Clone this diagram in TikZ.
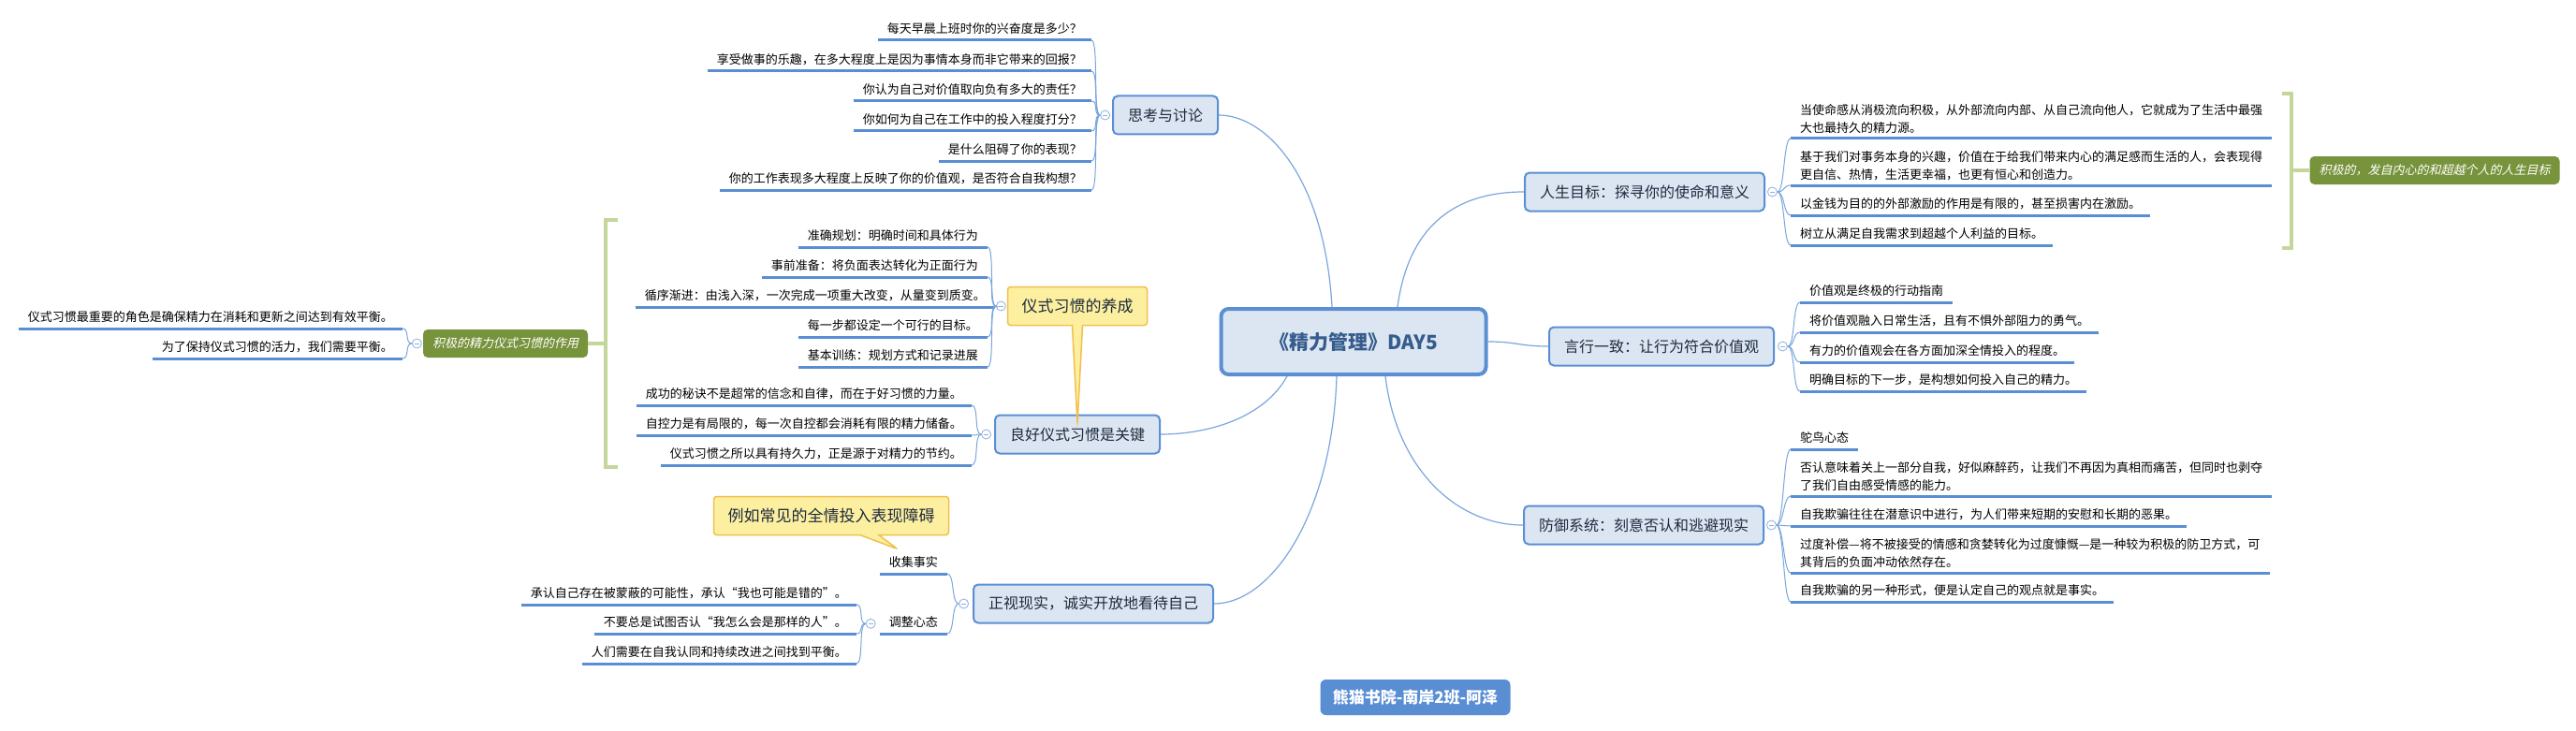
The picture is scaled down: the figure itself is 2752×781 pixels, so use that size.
\documentclass[tikz,border=0pt]{standalone}
\usepackage{fontspec}
\setmainfont{Noto Sans CJK SC}
\newfontfamily\slantcjk{Noto Sans CJK SC}[FakeSlant=0.22]
\usetikzlibrary{positioning,shapes.callouts}

\definecolor{topicfill}{HTML}{DCE6F2}
\definecolor{topicline}{HTML}{5B8FD4}
\definecolor{topictext}{HTML}{1E2A3E}
\definecolor{centertext}{HTML}{355C8C}
\definecolor{linkcol}{HTML}{7AA6DD}
\definecolor{ulcol}{HTML}{5A8ED3}
\definecolor{foldcol}{HTML}{8DB0DE}
\definecolor{sumcol}{HTML}{C4D79B}
\definecolor{sumfill}{HTML}{77933C}
\definecolor{notefill}{HTML}{FCF0A0}
\definecolor{notedraw}{HTML}{F2BF4E}

\begin{document}
\begin{tikzpicture}[x=1pt,y=-1pt,
    topic/.style={rectangle,rounded corners=5pt,draw=topicline,line width=2pt,fill=topicfill,
                  text=topictext,font=\fontsize{16}{19}\selectfont,minimum height=41pt,inner xsep=16pt},
    central/.style={topic,line width=4pt,rounded corners=8pt,text=centertext,
                    font=\bfseries\fontsize{21}{25}\selectfont,minimum height=70pt,minimum width=283pt},
    leafl/.style={anchor=south east,inner xsep=10pt,inner ysep=4pt,text height=10pt,text depth=3pt,
                  font=\fontsize{13}{19}\selectfont},
    leafr/.style={leafl,anchor=south west},
    leafm/.style={anchor=south west,align=left,inner xsep=10pt,inner ysep=5pt,font=\fontsize{13}{19}\selectfont},
    uline/.style={draw=ulcol,line width=3pt},
    link/.style={draw=linkcol,line width=1.2pt},
    spinel/.style={draw=linkcol,line width=1pt,out=180,in=0,distance=8pt},
    spiner/.style={draw=linkcol,line width=1pt,out=0,in=180,distance=8pt},
    fold/.style={circle,draw=foldcol,fill=white,line width=0.8pt,minimum size=10pt,inner sep=0pt,
                 path picture={\draw[foldcol,line width=0.8pt] ([xshift=2.5pt]path picture bounding box.west)
                               -- ([xshift=-2.5pt]path picture bounding box.east);}},
    note/.style={rectangle callout,rounded corners=3pt,draw=notedraw,line width=1.5pt,fill=notefill,
                 text=topictext,font=\fontsize{17}{20}\selectfont,minimum height=41pt,inner xsep=15pt},
    sumnode/.style={rectangle,rounded corners=5pt,fill=sumfill,text=white,
                    font=\slantcjk\fontsize{13}{16}\selectfont,minimum height=30pt,inner xsep=10pt},
    bracket/.style={draw=sumcol,line width=4pt},
    credit/.style={rectangle,rounded corners=6pt,fill=ulcol,text=white,
                   font=\bfseries\fontsize{17}{20}\selectfont,minimum width=203pt,minimum height=38pt}]

  \path[fill=white] (0,0) rectangle (2752,781);
  \useasboundingbox (0,0) rectangle (2752,781);

  % centre and main topics
  \node[central] (C) at (1446,365) {《精力管理》DAY5};
  \node[topic]   (A) at (1245,123) {思考与讨论};
  \node[topic]   (B) at (1757,205) {人生目标：探寻你的使命和意义};
  \node[topic]   (D) at (1775,370) {言行一致：让行为符合价值观};
  \node[topic]   (E) at (1756,561) {防御系统：刻意否认和逃避现实};
  \node[topic]   (L) at (1151,464) {良好仪式习惯是关键};
  \node[topic]   (F) at (1168,645) {正视现实，诚实开放地看待自己};

  \draw[link] ([xshift=-23pt]C.north) .. controls +(-8,-140) and +(50,0) .. (A.east);
  \draw[link] ([xshift=47pt]C.north) .. controls +(12,-90) and +(-70,0) .. (B.west);
  \draw[link] (C.east) .. controls +(30,0) and +(-30,0) .. (D.west);
  \draw[link] ([xshift=34pt]C.south) .. controls +(12,100) and +(-70,0) .. (E.west);
  \draw[link] ([xshift=-18pt]C.south) .. controls +(-5,150) and +(60,0) .. (F.east);
  \draw[link] ([xshift=-71pt]C.south) .. controls +(-25,45) and +(50,0) .. (L.east);

  % 思考与讨论
  \node[leafl] (A1) at (1166,43)  {每天早晨上班时你的兴奋度是多少？};
  \node[leafl] (A2) at (1166,76)  {享受做事的乐趣，在多大程度上是因为事情本身而非它带来的回报？};
  \node[leafl] (A3) at (1166,108) {你认为自己对价值取向负有多大的责任？};
  \node[leafl] (A4) at (1166,140) {你如何为自己在工作中的投入程度打分？};
  \node[leafl] (A5) at (1166,172) {是什么阻碍了你的表现？};
  \node[leafl] (A6) at (1166,203) {你的工作表现多大程度上反映了你的价值观，是否符合自我构想？};
  \node[fold]  (fA) [left=2pt of A] {};

  % 仪式习惯的养成
  \coordinate (tipR) at ([yshift=-10pt]L.north);
  \node[note,callout absolute pointer={(tipR)},callout pointer width=11pt] (R) at (1151,327) {仪式习惯的养成};
  \node[leafl] (R1) at (1055,264) {准确规划：明确时间和具体行为};
  \node[leafl] (R2) at (1055,296) {事前准备：将负面表达转化为正面行为};
  \node[leafl] (R3) at (1063,328) {循序渐进：由浅入深，一次完成一项重大改变，从量变到质变。};
  \node[leafl] (R4) at (1055,360) {每一步都设定一个可行的目标。};
  \node[leafl] (R5) at (1055,392) {基本训练：规划方式和记录进展};
  \node[fold]  (fR) [left=1pt of R] {};

  % 良好仪式习惯是关键
  \node[leafl] (L1) at (1038,433) {成功的秘诀不是超常的信念和自律，而在于好习惯的力量。};
  \node[leafl] (L2) at (1038,465) {自控力是有局限的，每一次自控都会消耗有限的精力储备。};
  \node[leafl] (L3) at (1038,497) {仪式习惯之所以具有持久力，正是源于对精力的节约。};
  \node[fold]  (fL) [left=3pt of L] {};

  % 积极的精力仪式习惯的作用
  \node[sumnode] (G) at (540,367) {积极的精力仪式习惯的作用};
  \node[leafl] (G1) at (430,351) {仪式习惯最重要的角色是确保精力在消耗和更新之间达到有效平衡。};
  \node[leafl] (G2) at (430,383) {为了保持仪式习惯的活力，我们需要平衡。};
  \node[fold]  (fG) [left=1pt of G] {};
  \coordinate (bl1) at (660,235);
  \coordinate (bl2) at (647,235);
  \coordinate (bl3) at (647,499);
  \coordinate (bl4) at (660,499);
  \draw[bracket] (bl1) -- (bl2) -- (bl3) -- (bl4);
  \draw[bracket] (G.east -| bl2) -- (G.east);

  % 正视现实
  \node[leafl] (F1) at (1012,613) {收集事实};
  \node[leafl] (F2) at (1012,677) {调整心态};
  \node[fold]  (fF) [left=4pt of F] {};
  \node[leafl] (F21) at (915,646) {承认自己存在被蒙蔽的可能性，承认“我也可能是错的”。};
  \node[leafl] (F22) at (915,677) {不要总是试图否认“我怎么会是那样的人”。};
  \node[leafl] (F23) at (915,709) {人们需要在自我认同和持续改进之间找到平衡。};
  \node[fold]  (fF2) [left=4pt of F2] {};
  \coordinate (tipN) at ([xshift=-17pt,yshift=5pt]F1.north);
  \node[note,callout absolute pointer={(tipN)},callout pointer width=20pt] (N) at (888,551) {例如常见的全情投入表现障碍};

  % 人生目标
  \node[leafm] (B1) at (1913,148) {当使命感从消极流向积极，从外部流向内部、从自己流向他人，它就成为了生活中最强\\大也最持久的精力源。};
  \node[leafm] (B2) at (1913,198) {基于我们对事务本身的兴趣，价值在于给我们带来内心的满足感而生活的人，会表现得\\更自信、热情，生活更幸福，也更有恒心和创造力。};
  \node[leafr] (B3) at (1913,230) {以金钱为目的的外部激励的作用是有限的，甚至损害内在激励。};
  \node[leafr] (B4) at (1913,262) {树立从满足自我需求到超越个人利益的目标。};
  \node[fold]  (fB) [right=2pt of B] {};
  \node[sumnode] (P) at (2601,182) {积极的，发自内心的和超越个人的人生目标};
  \coordinate (br1) at (2438,100);
  \coordinate (br2) at (2448,100);
  \coordinate (br3) at (2448,265);
  \coordinate (br4) at (2438,265);
  \draw[bracket] (br1) -- (br2) -- (br3) -- (br4);
  \draw[bracket] (P.west -| br2) -- (P.west);

  % 言行一致
  \node[leafr] (D1) at (1923,323) {价值观是终极的行动指南};
  \node[leafr] (D2) at (1923,355) {将价值观融入日常生活，且有不惧外部阻力的勇气。};
  \node[leafr] (D3) at (1923,387) {有力的价值观会在各方面加深全情投入的程度。};
  \node[leafr] (D4) at (1923,418) {明确目标的下一步，是构想如何投入自己的精力。};
  \node[fold]  (fD) [right=3pt of D] {};

  % 防御系统
  \node[leafr] (E1) at (1913,480) {鸵鸟心态};
  \node[leafm] (E2) at (1913,530) {否认意味着关上一部分自我，好似麻醉药，让我们不再因为真相而痛苦，但同时也剥夺\\了我们自由感受情感的能力。};
  \node[leafr] (E3) at (1913,562) {自我欺骗往往在潜意识中进行，为人们带来短期的安慰和长期的恶果。};
  \node[leafm] (E4) at (1913,612) {过度补偿—将不被接受的情感和贪婪转化为过度慷慨—是一种较为积极的防卫方式，可\\其背后的负面冲动依然存在。};
  \node[leafr] (E5) at (1913,643) {自我欺骗的另一种形式，便是认定自己的观点就是事实。};
  \node[fold]  (fE) [right=2pt of E] {};

  \node[credit] (K) at (1512,745) {熊猫书院-南岸2班-阿泽};

  % underlines and branches
  \foreach \n in {A1,A2,A3,A4,A5,A6,R1,R2,R3,R4,R5,L1,L2,L3,G1,G2,F1,F2,F21,F22,F23,
                  B1,B2,B3,B4,D1,D2,D3,D4,E1,E2,E3,E4,E5}
    \draw[uline] (\n.south west) -- (\n.south east);

  \foreach \n in {A1,A2,A3,A4,A5,A6} \path (fA) edge[spinel] (\n.south east);
  \foreach \n in {R1,R2,R3,R4,R5} \path (fR) edge[spinel] (\n.south east);
  \foreach \n in {L1,L2,L3} \path (fL) edge[spinel] (\n.south east);
  \foreach \n in {G1,G2} \path (fG) edge[spinel] (\n.south east);
  \foreach \n in {F1,F2} \path (fF) edge[spinel] (\n.south east);
  \foreach \n in {F21,F22,F23} \path (fF2) edge[spinel] (\n.south east);
  \foreach \n in {B1,B2,B3,B4} \path (fB) edge[spiner] (\n.south west);
  \foreach \n in {D1,D2,D3,D4} \path (fD) edge[spiner] (\n.south west);
  \foreach \n in {E1,E2,E3,E4,E5} \path (fE) edge[spiner] (\n.south west);
\end{tikzpicture}
\end{document}
